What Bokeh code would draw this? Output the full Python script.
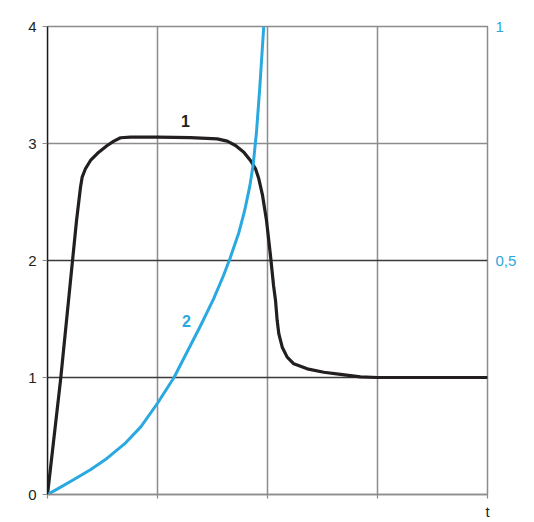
from bokeh.plotting import figure
from bokeh.models import Range1d, LinearAxis, FixedTicker, Span, Label
from bokeh.embed import file_html
from bokeh.resources import INLINE

# Curve 1: current I/In over time t
t_current = [0, 0.12, 0.264, 0.300, 0.315, 0.345, 0.391, 0.466, 0.543, 0.603, 0.664,
             0.755, 1.0, 1.3, 1.543, 1.634, 1.709, 1.785, 1.845, 1.891, 1.921, 1.955,
             1.991, 2.027, 2.055, 2.073, 2.088, 2.103, 2.134, 2.179, 2.239, 2.361,
             2.512, 2.664, 2.845, 3.0, 3.5, 4.0]
i_current = [0, 0.99, 2.342, 2.626, 2.712, 2.784, 2.855, 2.926, 2.983, 3.020, 3.049,
             3.055, 3.055, 3.05, 3.04, 3.02, 2.983, 2.926, 2.855, 2.784, 2.698, 2.556,
             2.342, 2.043, 1.786, 1.658, 1.487, 1.373, 1.259, 1.174, 1.117, 1.074,
             1.045, 1.026, 1.006, 1.0, 1.0, 1.0]

# Curve 2: speed N/Ns over time t
t_speed = [0, 0.10, 0.24, 0.39, 0.54, 0.70, 0.85, 1.00, 1.15, 1.27, 1.39, 1.51, 1.60,
           1.66, 1.74, 1.785, 1.80, 1.84, 1.87, 1.90, 1.93, 1.966]
n_speed = [0, 0.013, 0.032, 0.053, 0.077, 0.108, 0.145, 0.195, 0.25, 0.305, 0.36, 0.418,
           0.468, 0.505, 0.56, 0.60, 0.615, 0.66, 0.705, 0.775, 0.87, 1.0]

left_ticks = [0, 1, 2, 3, 4]
right_ticks = [0.5, 1]
right_labels = ["0,5", "1"]
x_ticks = [0, 1, 2, 3, 4]
x_labels = ["", "", "", "", "t"]

FONT = "Liberation Sans"
FSIZE = "15px"
BLUE = "#29a9e0"
INK = "#231f20"
GRAY = "#8c8c8c"
DARK = "#3a3a3a"

p = figure(width=534, height=522, x_range=Range1d(0, 4), y_range=Range1d(0, 4),
           output_backend="svg", toolbar_location=None,
           min_border_left=47, min_border_right=47, min_border_top=26, min_border_bottom=28)
p.extra_y_ranges = {"speed": Range1d(0, 1)}
p.grid.visible = False
p.outline_line_color = GRAY
p.outline_line_width = 1.5
p.background_fill_color = "white"
p.border_fill_color = "white"

# bottom axis: only the end label "t"
xa = p.xaxis[0]
xa.ticker = FixedTicker(ticks=x_ticks)
xa.major_label_overrides = {k: v for k, v in zip(x_ticks, x_labels)}
xa.axis_line_color = GRAY
xa.axis_line_width = 1.5
xa.major_tick_in = 0
xa.major_tick_out = 4
xa.major_tick_line_color = GRAY
xa.major_tick_line_width = 1.2
xa.minor_tick_line_color = None
xa.major_label_standoff = 4
xa.major_label_text_font = FONT
xa.major_label_text_font_size = FSIZE
xa.major_label_text_color = INK

# left axis: I/In
ya = p.yaxis[0]
ya.ticker = FixedTicker(ticks=left_ticks)
ya.axis_line_color = "#1a1a1a"
ya.axis_line_width = 1.2
ya.major_tick_in = 0
ya.major_tick_out = 5
ya.major_tick_line_color = GRAY
ya.major_tick_line_width = 1.2
ya.minor_tick_line_color = None
ya.major_label_standoff = 6
ya.major_label_text_font = FONT
ya.major_label_text_font_size = FSIZE
ya.major_label_text_color = INK

# right axis: N/Ns
ra = LinearAxis(y_range_name="speed", ticker=FixedTicker(ticks=right_ticks),
                major_label_overrides={k: v for k, v in zip(right_ticks, right_labels)})
ra.axis_line_color = None
ra.major_tick_line_color = None
ra.major_tick_in = 0
ra.major_tick_out = 0
ra.minor_tick_line_color = None
ra.major_label_standoff = 8
ra.major_label_text_font = FONT
ra.major_label_text_font_size = FSIZE
ra.major_label_text_color = BLUE
p.add_layout(ra, "right")

# grid lines
for xv in [1, 2, 3]:
    p.add_layout(Span(location=xv, dimension="height", line_color=GRAY,
                      line_width=1.5, level="underlay"))
for yv, col in [(1, DARK), (2, DARK), (3, GRAY)]:
    p.add_layout(Span(location=yv, dimension="width", line_color=col,
                      line_width=1.3, level="underlay"))
p.add_layout(Span(location=0, dimension="height", line_color="#1a1a1a",
                  line_width=1.2, level="overlay"))

# curves
p.line(t_current, i_current, line_color=INK, line_width=3.2, line_join="round")
p.line(t_speed, n_speed, y_range_name="speed", line_color=BLUE, line_width=3,
       line_join="round")

# curve numbers
p.add_layout(Label(x=1.255, y=3.19, text="1", text_font=FONT, text_font_style="bold",
                   text_font_size="16px", text_color=INK, text_align="center",
                   text_baseline="middle"))
p.add_layout(Label(x=1.264, y=1.48, text="2", text_font=FONT, text_font_style="bold",
                   text_font_size="16px", text_color=BLUE, text_align="center",
                   text_baseline="middle"))

# axis titles above the frame
p.add_layout(Label(x=-0.218, y=4.137, text="I/In", text_font=FONT,
                   text_font_size=FSIZE, text_color=INK, text_align="center",
                   text_baseline="middle"))
p.add_layout(Label(x=4.109, y=4.137, text="N/Ns", text_font=FONT,
                   text_font_size=FSIZE, text_color=BLUE, text_align="left",
                   text_baseline="middle"))

open("out.html", "w").write(file_html(p, INLINE))
